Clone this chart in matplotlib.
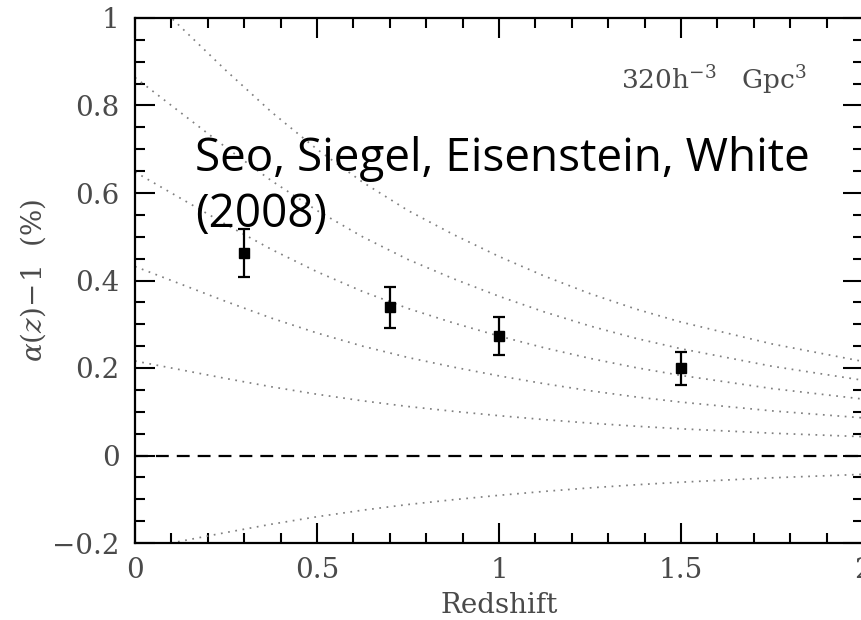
import matplotlib

matplotlib.use("Agg")

import matplotlib.pyplot as plt
from matplotlib.ticker import FuncFormatter, MultipleLocator


# redshift grid used for the forecast curves
Z_GRID = [0.0, 0.125, 0.25, 0.375, 0.5, 0.625, 0.75, 0.875, 1.0,
          1.125, 1.25, 1.375, 1.5, 1.625, 1.75, 1.875, 2.0]

# dotted forecast curves, top to bottom
CURVE_1 = [1.080, 0.980, 0.880, 0.785, 0.700, 0.625, 0.560, 0.505, 0.455,
           0.410, 0.370, 0.335, 0.305, 0.280, 0.255, 0.235, 0.215]
CURVE_2 = [0.864, 0.784, 0.704, 0.628, 0.560, 0.500, 0.448, 0.404, 0.364,
           0.328, 0.296, 0.268, 0.244, 0.224, 0.204, 0.188, 0.172]
CURVE_3 = [0.648, 0.588, 0.528, 0.471, 0.420, 0.375, 0.336, 0.303, 0.273,
           0.246, 0.222, 0.201, 0.183, 0.168, 0.153, 0.141, 0.129]
CURVE_4 = [0.432, 0.392, 0.352, 0.314, 0.280, 0.250, 0.224, 0.202, 0.182,
           0.164, 0.148, 0.134, 0.122, 0.112, 0.102, 0.094, 0.086]
CURVE_5 = [0.216, 0.196, 0.176, 0.157, 0.140, 0.125, 0.112, 0.101, 0.091,
           0.082, 0.074, 0.067, 0.061, 0.056, 0.051, 0.047, 0.043]
CURVE_NEG = [-0.216, -0.196, -0.176, -0.157, -0.140, -0.125, -0.112, -0.101,
             -0.091, -0.082, -0.074, -0.067, -0.061, -0.056, -0.051, -0.047,
             -0.043]

# measured distance errors
POINT_Z = [0.3, 0.7, 1.0, 1.5]
POINT_ALPHA = [0.463, 0.339, 0.273, 0.199]
POINT_ERR = [0.054, 0.047, 0.043, 0.038]

SERIF = "DejaVu Serif"
TEXT_GREY = "#4a4a4a"


def tick_label(value, _pos):
    text = f"{value:g}"
    return text.replace("-", "\u2212")


def create_alpha_chart() -> None:
    figure = plt.figure(figsize=(8.61, 6.2), dpi=100)
    axis = figure.add_axes([135 / 861, 77 / 620, 728 / 861, 525 / 620])

    for curve in [CURVE_1, CURVE_2, CURVE_3, CURVE_4, CURVE_5, CURVE_NEG]:
        axis.plot(Z_GRID, curve, color="#808080", linewidth=1.25,
                  linestyle=(0, (1, 3.2)))

    axis.axhline(0, color="black", linewidth=1.6, linestyle=(0, (5.8, 3.6)))

    axis.errorbar(
        POINT_Z,
        POINT_ALPHA,
        yerr=POINT_ERR,
        fmt="s",
        color="black",
        markersize=7,
        elinewidth=1.6,
        capsize=4.5,
        capthick=1.6,
    )

    axis.set_xlim(0, 2)
    axis.set_ylim(-0.2, 1)
    axis.xaxis.set_major_locator(MultipleLocator(0.5))
    axis.xaxis.set_minor_locator(MultipleLocator(0.1))
    axis.yaxis.set_major_locator(MultipleLocator(0.2))
    axis.yaxis.set_minor_locator(MultipleLocator(0.05))
    axis.xaxis.set_major_formatter(FuncFormatter(tick_label))
    axis.yaxis.set_major_formatter(FuncFormatter(tick_label))

    axis.tick_params(which="both", direction="in", top=True, right=True,
                     width=1.5, colors="black", labelcolor=TEXT_GREY,
                     labelsize=20)
    axis.tick_params(which="major", length=14.5)
    axis.tick_params(which="minor", length=7.5)
    axis.tick_params(axis="x", which="major", pad=10)
    axis.tick_params(axis="y", which="major", pad=11)
    for label in axis.get_xticklabels() + axis.get_yticklabels():
        label.set_family(SERIF)
    for spine in axis.spines.values():
        spine.set_linewidth(1.6)

    axis.set_xlabel("Redshift", family=SERIF, fontsize=20, color=TEXT_GREY)
    axis.set_ylabel(r"$\alpha(z)\!-\!1$  (%)", family=SERIF, fontsize=20,
                    color=TEXT_GREY)
    axis.xaxis.set_label_coords(0.5, -0.094)
    axis.yaxis.set_label_coords(-0.12, 0.5)

    axis.text(0.923, 0.865, r"320h$^{-3}$   Gpc$^{3}$", transform=axis.transAxes,
              ha="right", va="baseline", family=SERIF, fontsize=19,
              color=TEXT_GREY)

    figure.text(195 / 861, 1 - 227 / 620, "Seo, Siegel, Eisenstein, White\n(2008)",
                ha="left", va="baseline", family="Open Sans", fontsize=33,
                color="black", linespacing=1.3)

    figure.savefig("out.png", dpi=100)
    plt.close(figure)


if __name__ == "__main__":
    plt.rcParams["mathtext.fontset"] = "dejavuserif"
    create_alpha_chart()
